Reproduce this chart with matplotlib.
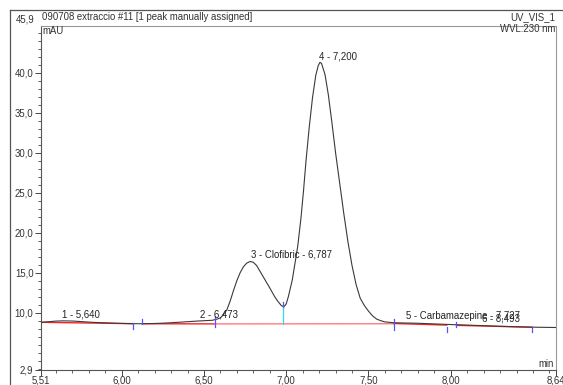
import matplotlib
matplotlib.use("Agg")
import matplotlib.pyplot as plt
from matplotlib.lines import Line2D
from matplotlib.ticker import MultipleLocator, FixedLocator, FuncFormatter

W, H = 563, 385

# chromatogram trace (time in min, signal in mAU)
time = [5.51, 5.56, 5.60, 5.64, 5.70, 5.76, 5.82, 5.90, 5.98, 6.05, 6.12, 6.20,
        6.28, 6.36, 6.44, 6.50, 6.55, 6.58, 6.60, 6.62, 6.64, 6.66, 6.68, 6.70,
        6.72, 6.74, 6.76, 6.78, 6.80, 6.82, 6.84, 6.86, 6.88, 6.90, 6.93, 6.95,
        6.97, 6.985, 7.00, 7.013, 7.037, 7.07, 7.09, 7.105, 7.12, 7.14, 7.16,
        7.18, 7.195, 7.205, 7.215, 7.236, 7.256, 7.277, 7.30, 7.325, 7.35, 7.375,
        7.40, 7.425, 7.45, 7.475, 7.50, 7.525, 7.55, 7.575, 7.60, 7.65, 7.70,
        7.80, 7.90, 8.00, 8.10, 8.20, 8.30, 8.40, 8.50, 8.64]
signal = [8.80, 8.88, 8.95, 8.98, 8.96, 8.88, 8.80, 8.73, 8.67, 8.63, 8.62, 8.65,
          8.72, 8.82, 8.93, 9.00, 9.05, 9.20, 9.35, 9.80, 10.4, 11.5, 12.8, 14.0,
          15.0, 15.75, 16.2, 16.4, 16.3, 15.9, 15.2, 14.5, 13.8, 13.1, 12.0, 11.4,
          10.9, 10.72, 11.1, 12.0, 14.1, 18.3, 21.9, 25.2, 28.9, 33.2, 36.9,
          39.7, 40.9, 41.3, 41.15, 39.75, 37.25, 33.9, 30.0, 26.2, 22.4, 18.9,
          15.9, 13.5, 11.8, 10.9, 10.2, 9.6, 9.2, 9.0, 8.85, 8.75, 8.72,
          8.68, 8.60, 8.52, 8.45, 8.38, 8.30, 8.24, 8.19, 8.15]

# baseline segments (start time, start mAU, end time, end mAU)
base_t0 = [5.51, 6.126, 6.567, 7.655, 8.035]
base_y0 = [8.80, 8.62, 8.60, 8.65, 8.42]
base_t1 = [6.07, 6.567, 7.655, 7.976, 8.496]
base_y1 = [8.63, 8.60, 8.62, 8.45, 8.18]

# peak delimiter marks (time, low mAU, high mAU)
mark_t = [6.07, 6.126, 6.567, 6.982, 7.655, 7.976, 8.035, 8.496]
mark_lo = [7.96, 8.63, 8.25, 10.6, 7.90, 7.60, 8.25, 7.55]
mark_hi = [8.71, 9.25, 9.60, 11.4, 9.25, 8.25, 8.90, 8.20]

# peak labels
label_t = [5.64, 6.476, 6.787, 7.20, 7.727, 8.19]
label_y = [9.2, 9.1, 16.6, 41.4, 9.0, 8.6]
label_txt = ["1 - 5,640", "2 - 6,473", "3 - Clofibric - 6,787", "4 - 7,200",
             "5 - Carbamazepine - 7,727", "6 - 8,493"]

x_major = [5.51, 6.00, 6.50, 7.00, 7.50, 8.00, 8.64]
y_major = [2.9, 10, 15, 20, 25, 30, 35, 40]

plt.rcParams["font.family"] = ["Liberation Sans", "DejaVu Sans"]
plt.rcParams["font.size"] = 6.9

fig = plt.figure(figsize=(W / 100, H / 100), dpi=100)
ax = fig.add_axes([41.1 / W, 1 - 369.5 / H, (556 - 41.1) / W, (369.5 - 25.5) / H])
ax.set_xlim(5.51, 8.64)
ax.set_ylim(2.9, 45.9)

ax.plot(time, signal, color="#3a3a3a", lw=0.8, zorder=3)
for i in range(len(base_t0)):
    c = "#ff7a7a" if i == 2 else "#ff2020"
    ax.plot([base_t0[i], base_t1[i]], [base_y0[i], base_y1[i]], color=c, lw=1.0, zorder=2)
for t, lo, hi in zip(mark_t, mark_lo, mark_hi):
    ax.plot([t, t], [lo, hi], color="#5555ff", lw=0.9, zorder=4)
ax.plot([6.982, 6.982], [8.6, 10.6], color="#33dddd", lw=0.9, zorder=4)

for t, y, s in zip(label_t, label_y, label_txt):
    ax.text(t, y, s, ha="left", va="bottom", color="#222222", zorder=5)

comma = FuncFormatter(lambda v, p: f"{v:.2f}".replace(".", ","))
ax.xaxis.set_major_locator(FixedLocator(x_major))
ax.xaxis.set_major_formatter(comma)
ax.xaxis.set_minor_locator(MultipleLocator(0.1))
ax.yaxis.set_major_locator(FixedLocator(y_major))
ax.yaxis.set_major_formatter(FuncFormatter(lambda v, p: f"{v:.1f}".replace(".", ",")))
ax.yaxis.set_minor_locator(MultipleLocator(1))

ax.tick_params(which="major", direction="out", length=4.5, width=0.7, color="#444444",
               labelcolor="#333333", pad=1)
ax.tick_params(axis="x", which="major", length=4, pad=0)
ax.tick_params(which="minor", direction="out", length=2.5, width=0.6, color="#444444")

for side in ["left", "bottom"]:
    ax.spines[side].set_color("#555555")
    ax.spines[side].set_linewidth(0.8)
for side in ["top", "right"]:
    ax.spines[side].set_color("#999999")
    ax.spines[side].set_linewidth(0.8)

def fx(px):
    return px / W

def fy(py):
    return 1 - py / H

fig.text(fx(42), fy(17), "090708 extraccio #11 [1 peak manually assigned]",
         ha="left", va="center", color="#333333")
fig.text(fx(555), fy(17), "UV_VIS_1", ha="right", va="center", color="#333333")
fig.text(fx(555), fy(29), "WVL:230 nm", ha="right", va="center", color="#333333")
fig.text(fx(42), fy(31), "mAU", ha="left", va="center", color="#333333")
fig.text(fx(554), fy(364), "min", ha="right", va="center", color="#333333")
fig.text(fx(35), fy(20), "45,9", ha="right", va="center", color="#333333")

fig.add_artist(Line2D([fx(10), 1], [fy(10), fy(10)], color="#555555", lw=0.9))
fig.add_artist(Line2D([fx(10), fx(10)], [fy(10), 0], color="#555555", lw=0.9))

fig.savefig("out.png", dpi=100)
